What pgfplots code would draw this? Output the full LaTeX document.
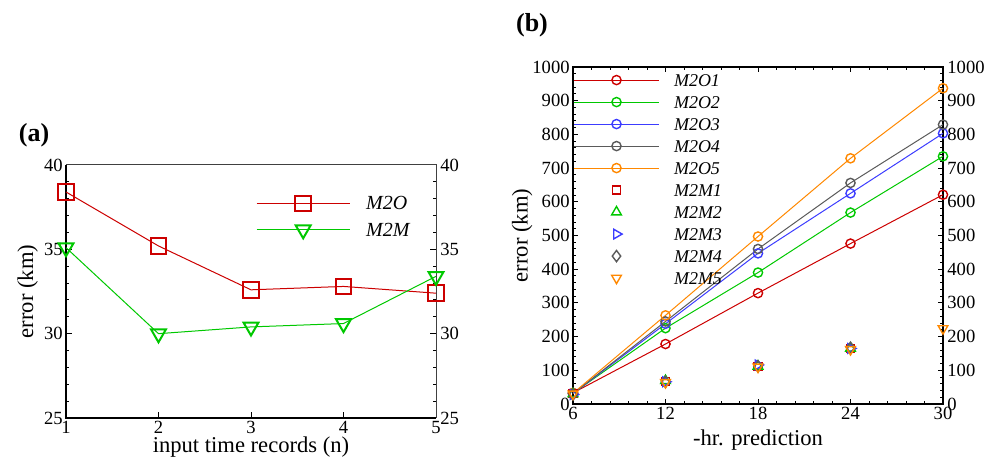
\documentclass[border=0pt]{standalone}
\usepackage{fontspec}
\setmainfont{Liberation Serif}
\usepackage{pgfplots}
\pgfplotsset{compat=1.18}

\definecolor{cred}{RGB}{204,0,0}
\definecolor{cgreen}{RGB}{0,200,0}
\definecolor{cblue}{RGB}{60,60,255}
\definecolor{cgray}{RGB}{90,90,90}
\definecolor{corange}{RGB}{255,136,0}

\pgfplotsset{
  base/.style={
    scale only axis, width=185pt, tick align=inside, clip=false,
    /pgf/number format/assume math mode=true,
    /pgf/number format/1000 sep={},
    tick label style={font=\rmfamily\fontsize{9.3}{10}\selectfont, inner sep=1.5pt},
    label style={font=\rmfamily\fontsize{11.3}{13}\selectfont},
    major tick style={line width=0.5pt,black},
    minor tick style={line width=0.5pt,black},
    major tick length=2.8pt, minor tick length=1.5pt,
  },
  rightlabels/.style={
    scale only axis, width=185pt,
    /pgf/number format/assume math mode=true,
    /pgf/number format/1000 sep={},
    tick label style={font=\rmfamily\fontsize{9.3}{10}\selectfont, inner sep=2pt},
    yticklabel pos=right, xticklabels={},
    axis line style={draw=none}, tick style={draw=none},
  },
}

\begin{document}
\begin{tikzpicture}
\path[use as bounding box] (0,0) rectangle (492.5pt,-229pt);

% ---------- (a)
\begin{axis}[base,
  at={(33pt,-209pt)}, anchor=south west, height=126.5pt,
  xmin=1, xmax=5, ymin=25, ymax=40,
  xtick={1,2,3,4,5}, ytick={25,30,35,40},
  minor y tick num=4,
  xtick pos=bottom, ytick pos=both,
  axis line style={line width=0.5pt,black!75},
  xlabel={input time records (n)}, ylabel={error (km)},
  xlabel shift=-3.5pt, ylabel shift=-2pt,
  legend image code/.code={\draw[mark repeat=2,mark phase=2,#1] plot coordinates {(0pt,0pt) (23.25pt,0pt) (46.5pt,0pt)};},
  legend style={at={(0.514,0.879)}, anchor=north west, draw=none, fill=none,
    inner sep=0pt, outer sep=0pt, row sep=6pt, column sep=8pt,
    font=\itshape\fontsize{10}{12}\selectfont,
    nodes={inner sep=0pt, text height=6.5pt, text depth=0pt}},
  legend cell align=left,
]
\draw[line width=1pt] (rel axis cs:0,1) -- (rel axis cs:0,0) -- (rel axis cs:1,0);
\addplot[cred, line width=0.5pt, mark=square, mark size=3.9pt, mark options={line width=1pt}]
  coordinates {(1,38.4) (2,35.2) (3,32.6) (4,32.8) (5,32.4)};
\addlegendentry{M2O}
\addplot[cgreen, line width=0.5pt, mark=triangle, mark size=4.3pt, mark options={rotate=180, line width=1pt}]
  coordinates {(1,35.1) (2,30.0) (3,30.4) (4,30.6) (5,33.4)};
\addlegendentry{M2M}
\end{axis}
\begin{axis}[rightlabels,
  at={(33pt,-209pt)}, anchor=south west, height=126.5pt,
  xmin=1, xmax=5, ymin=25, ymax=40, ytick={25,30,35,40}, xtick={1,2,3,4,5}]
\end{axis}

% ---------- (b)
\begin{axis}[base,
  at={(286.5pt,-202pt)}, anchor=south west, height=168.5pt,
  xmin=6, xmax=30, ymin=0, ymax=1000,
  xtick={6,12,18,24,30}, ytick={0,100,...,1000},
  minor x tick num=4, minor y tick num=4,
  xtick pos=both, ytick pos=both,
  major tick length=2.5pt, minor tick length=1.3pt,
  axis line style={line width=1pt,black},
  xlabel={-hr. prediction}, ylabel={error (km)},
  ylabel shift=-5pt,
  legend image code/.code={\draw[mark repeat=2,mark phase=2,#1] plot coordinates {(0pt,0pt) (21.5pt,0pt) (42.5pt,0pt)};},
  legend style={at={(0,0.979)}, anchor=north west, draw=none, fill=none,
    inner sep=0pt, outer sep=0pt, row sep=5pt, column sep=7.5pt,
    font=\itshape\fontsize{9}{11}\selectfont,
    nodes={inner sep=0pt, text height=6pt, text depth=0pt}},
  legend cell align=left,
]
\addplot[cred, line width=0.5pt, mark=o, mark size=2.3pt, mark options={line width=0.7pt}]
  coordinates {(6,33) (12,178) (18,329) (24,476) (30,621)};
\addlegendentry{M2O1}
\addplot[cgreen, line width=0.5pt, mark=o, mark size=2.3pt, mark options={line width=0.7pt}]
  coordinates {(6,32) (12,225) (18,390) (24,568) (30,735)};
\addlegendentry{M2O2}
\addplot[cblue, line width=0.5pt, mark=o, mark size=2.3pt, mark options={line width=0.7pt}]
  coordinates {(6,31) (12,238) (18,447) (24,625) (30,803)};
\addlegendentry{M2O3}
\addplot[cgray, line width=0.5pt, mark=o, mark size=2.3pt, mark options={line width=0.7pt}]
  coordinates {(6,31) (12,245) (18,460) (24,656) (30,829)};
\addlegendentry{M2O4}
\addplot[corange, line width=0.5pt, mark=o, mark size=2.3pt, mark options={line width=0.7pt}]
  coordinates {(6,32) (12,263) (18,497) (24,729) (30,937)};
\addlegendentry{M2O5}
\addplot[cred, only marks, mark=square, mark size=2pt, mark options={line width=0.7pt}]
  coordinates {(6,32) (12,66) (18,112) (24,165)};
\addlegendentry{M2M1}
\addplot[cgreen, only marks, mark=triangle, mark size=2.8pt, mark options={line width=0.7pt}]
  coordinates {(6,30) (12,69) (18,112) (24,165)};
\addlegendentry{M2M2}
\addplot[cblue, only marks, mark=triangle, mark size=2.8pt, mark options={rotate=-90, line width=0.7pt}]
  coordinates {(6,28) (12,66) (18,116) (24,165)};
\addlegendentry{M2M3}
\addplot[cgray, only marks, mark=diamond, mark size=2.8pt, mark options={line width=0.7pt}]
  coordinates {(6,28) (12,66) (18,112) (24,167)};
\addlegendentry{M2M4}
\addplot[corange, only marks, mark=triangle, mark size=2.8pt, mark options={rotate=180, line width=0.7pt}]
  coordinates {(6,30) (12,64) (18,110) (24,162) (30,224)};
\addlegendentry{M2M5}
\end{axis}
\begin{axis}[rightlabels,
  at={(286.5pt,-202pt)}, anchor=south west, height=168.5pt,
  xmin=6, xmax=30, ymin=0, ymax=1000, ytick={0,100,...,1000}, xtick={6,12,18,24,30}]
\end{axis}

\node[font=\bfseries\fontsize{13}{15}\selectfont] at (17pt,-67.5pt) {(a)};
\node[font=\bfseries\fontsize{13}{15}\selectfont] at (266pt,-12.5pt) {(b)};
\end{tikzpicture}
\end{document}
